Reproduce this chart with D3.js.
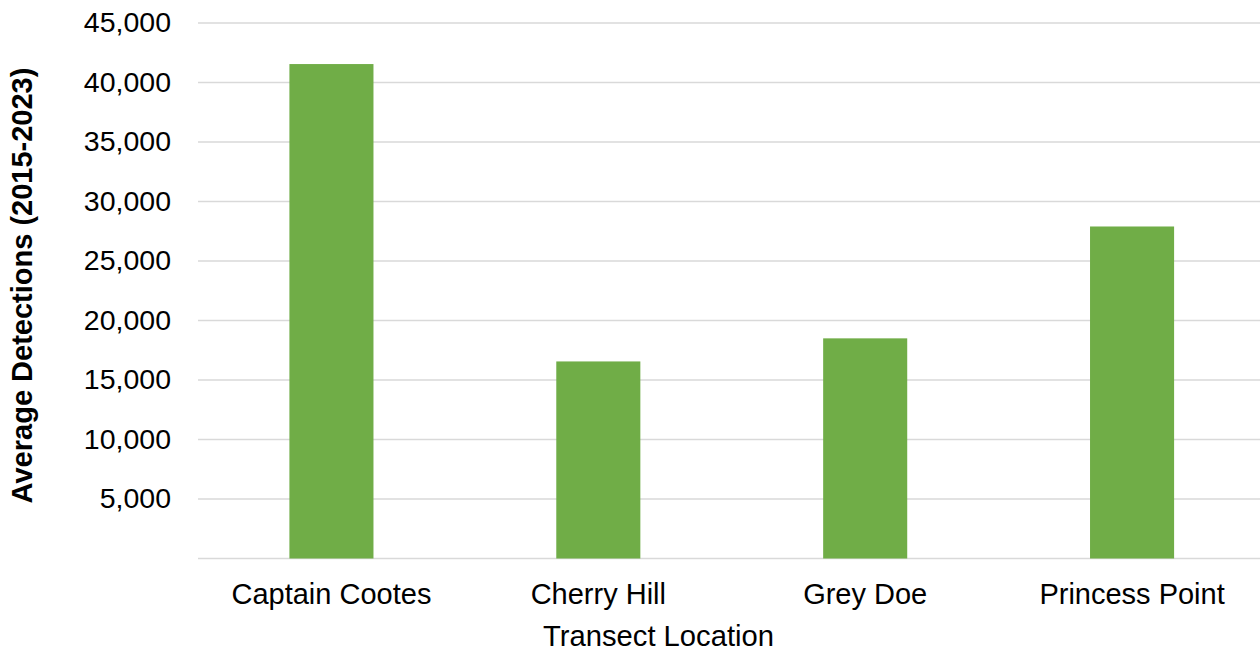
<!DOCTYPE html>
<html>
<head>
<meta charset="utf-8">
<script src="https://cdn.jsdelivr.net/npm/d3@7"></script>
<style>
  html, body { margin: 0; padding: 0; background: #ffffff; }
  svg { display: block; }
  text { font-family: "Liberation Sans", Arial, sans-serif; fill: #000000; }
</style>
</head>
<body>
<svg id="chart" width="1260" height="651"></svg>
<script>
// Average detections per transect location, 2015-2023
const locations = ["Captain Cootes", "Cherry Hill", "Grey Doe", "Princess Point"];
const avgDetections = [41550, 16560, 18500, 27900];
const yTicks = [5000, 10000, 15000, 20000, 25000, 30000, 35000, 40000, 45000];
const gridValues = [0, 5000, 10000, 15000, 20000, 25000, 30000, 35000, 40000, 45000];

const svg = d3.select("#chart");
const plotLeft = 198, plotRight = 1265.5, plotTop = 23, plotBottom = 558.5;

const x = d3.scaleBand()
  .domain(locations)
  .range([plotLeft, plotRight])
  .paddingInner(0.685)
  .paddingOuter(0.3425);

const y = d3.scaleLinear()
  .domain([0, 45000])
  .range([plotBottom, plotTop]);

// horizontal gridlines
svg.append("g")
  .selectAll("line")
  .data(gridValues)
  .join("line")
  .attr("x1", plotLeft)
  .attr("x2", 1260)
  .attr("y1", d => y(d))
  .attr("y2", d => y(d))
  .attr("stroke", "#d9d9d9")
  .attr("stroke-width", 1.6);

// bars
svg.append("g")
  .selectAll("rect")
  .data(locations)
  .join("rect")
  .attr("x", d => x(d))
  .attr("width", x.bandwidth())
  .attr("y", (d, i) => y(avgDetections[i]))
  .attr("height", (d, i) => y(0) - y(avgDetections[i]))
  .attr("fill", "#70ad47");

// y axis labels
const fmt = d3.format(",");
const yAxis = d3.axisLeft(y)
  .tickValues(yTicks)
  .tickFormat(fmt)
  .tickSize(0)
  .tickPadding(27);
const gy = svg.append("g").attr("transform", `translate(${plotLeft},0)`).call(yAxis);
gy.select(".domain").remove();
gy.selectAll("text")
  .attr("font-family", "Liberation Sans, Arial, sans-serif")
  .attr("font-size", 28.5)
  .attr("fill", "#000")
  .attr("dy", "0.3em");

// x axis labels
const xAxis = d3.axisBottom(x).tickSize(0).tickPadding(0);
const gx = svg.append("g").attr("transform", `translate(0,${plotBottom})`).call(xAxis);
gx.select(".domain").remove();
gx.selectAll("text")
  .attr("font-family", "Liberation Sans, Arial, sans-serif")
  .attr("font-size", 29)
  .attr("fill", "#000")
  .attr("y", 45)
  .attr("dy", 0);

// axis titles
svg.append("text")
  .attr("x", 658.5)
  .attr("y", 646)
  .attr("text-anchor", "middle")
  .attr("font-size", 29.2)
  .text("Transect Location");

svg.append("text")
  .attr("transform", "translate(32,285.5) rotate(-90)")
  .attr("text-anchor", "middle")
  .attr("font-size", 29)
  .attr("font-weight", "bold")
  .text("Average Detections (2015-2023)");
</script>
</body>
</html>
